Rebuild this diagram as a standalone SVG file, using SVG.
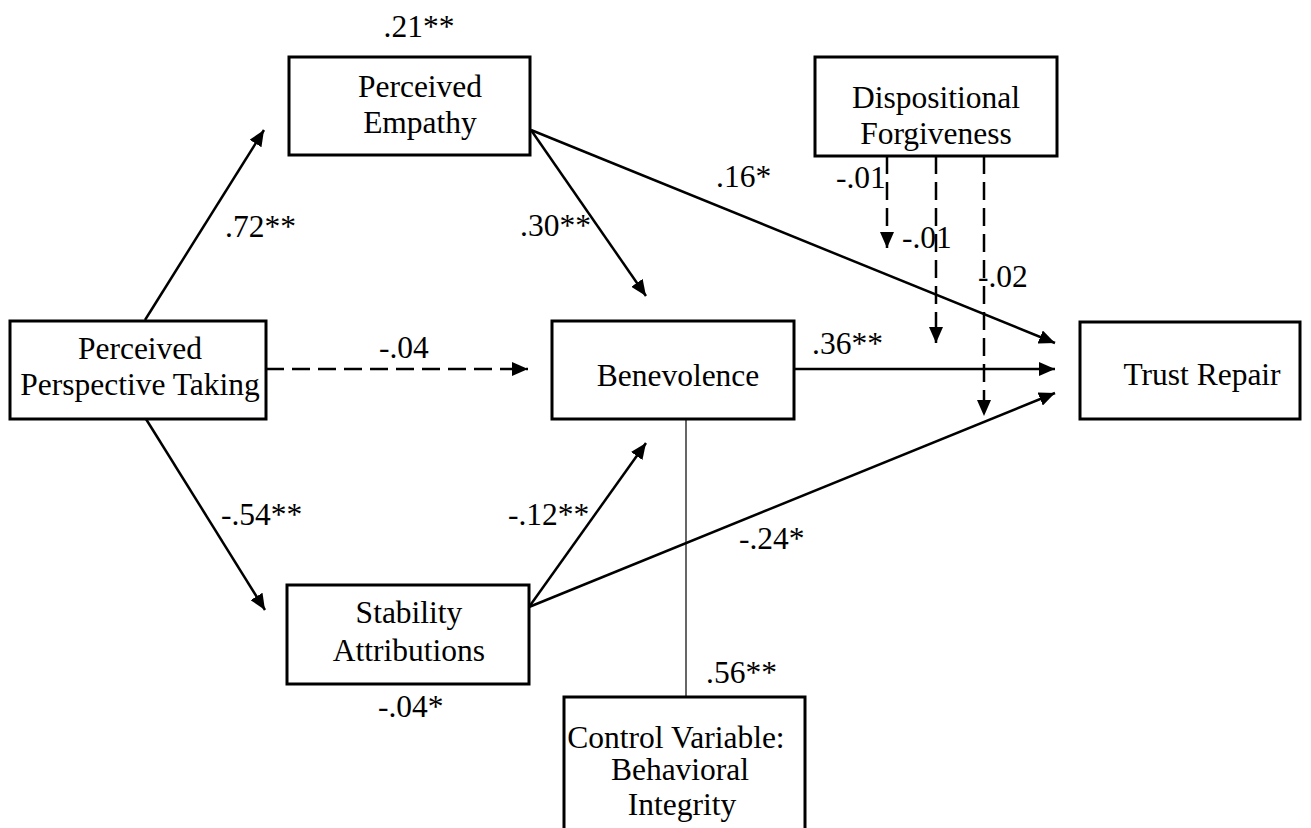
<svg xmlns="http://www.w3.org/2000/svg" width="1311" height="828" viewBox="0 0 1311 828">
  <style>
    .box { fill: #ffffff; stroke: #000000; stroke-width: 3; }
    .lbl { font-family: "Liberation Serif", "Times New Roman", serif; font-size: 31.5px; fill: #000000; }
    .mid { text-anchor: middle; }
    .path { stroke: #000000; stroke-width: 2.5; fill: none; marker-end: url(#head); }
    .dash { stroke-dasharray: 18 8; }
    .thin { stroke: #000000; stroke-width: 1.2; fill: none; }
  </style>
  <defs>
    <marker id="head" markerUnits="userSpaceOnUse" markerWidth="16" markerHeight="14" refX="16" refY="7" orient="auto">
      <path d="M0,0 L16,7 L0,14 Z" fill="#000000"/>
    </marker>
  </defs>
  <rect width="1311" height="828" fill="#ffffff"/>

  <!-- paths between constructs -->
  <g id="connectors">
    <line class="path" x1="145" y1="320" x2="264" y2="130"/>
    <line class="path" x1="146" y1="419" x2="265" y2="610"/>
    <line class="path dash" x1="266" y1="369" x2="528" y2="369"/>
    <line class="path" x1="531" y1="130" x2="646" y2="296"/>
    <line class="path" x1="531" y1="130" x2="1055" y2="343"/>
    <line class="path" x1="794" y1="369" x2="1055" y2="369"/>
    <line class="path" x1="529" y1="607" x2="646" y2="443"/>
    <line class="path" x1="529" y1="607" x2="1055" y2="393"/>
    <line class="path dash" x1="887" y1="156" x2="887" y2="248"/>
    <line class="path dash" x1="936" y1="156" x2="936" y2="343"/>
    <line class="path dash" x1="984" y1="156" x2="984" y2="416"/>
    <line class="thin" x1="686" y1="419" x2="686" y2="697"/>
  </g>

  <!-- path coefficients -->
  <g id="coefficients">
    <text class="lbl mid" x="419" y="37">.21**</text>
    <text class="lbl" x="225" y="237">.72**</text>
    <text class="lbl" x="520" y="236">.30**</text>
    <text class="lbl" x="716" y="187">.16*</text>
    <text class="lbl" x="836" y="188">-.01</text>
    <text class="lbl" x="902" y="248">-.01</text>
    <text class="lbl" x="978" y="287">-.02</text>
    <text class="lbl" x="379" y="358">-.04</text>
    <text class="lbl" x="812" y="354">.36**</text>
    <text class="lbl" x="221" y="525">-.54**</text>
    <text class="lbl" x="508" y="525">-.12**</text>
    <text class="lbl" x="739" y="549">-.24*</text>
    <text class="lbl" x="378" y="717">-.04*</text>
    <text class="lbl" x="706" y="683">.56**</text>
  </g>

  <g id="perspective-taking">
    <rect class="box" x="10" y="321" width="256" height="98"/>
    <text class="lbl mid" x="140" y="359">Perceived</text>
    <text class="lbl mid" x="140" y="395">Perspective Taking</text>
  </g>

  <g id="empathy">
    <rect class="box" x="289" y="57" width="241" height="98"/>
    <text class="lbl mid" x="420" y="97">Perceived</text>
    <text class="lbl mid" x="420" y="133">Empathy</text>
  </g>

  <g id="forgiveness">
    <rect class="box" x="815" y="57" width="242" height="99"/>
    <text class="lbl mid" x="936" y="108">Dispositional</text>
    <text class="lbl mid" x="936" y="144">Forgiveness</text>
  </g>

  <g id="benevolence">
    <rect class="box" x="552" y="321" width="242" height="98"/>
    <text class="lbl mid" x="678" y="386">Benevolence</text>
  </g>

  <g id="trust-repair">
    <rect class="box" x="1080" y="322" width="220" height="97"/>
    <text class="lbl mid" x="1202" y="385">Trust Repair</text>
  </g>

  <g id="stability">
    <rect class="box" x="287" y="585" width="242" height="99"/>
    <text class="lbl mid" x="409" y="623">Stability</text>
    <text class="lbl mid" x="409" y="661">Attributions</text>
  </g>

  <g id="behavioral-integrity">
    <rect class="box" x="564" y="697" width="241" height="160"/>
    <text class="lbl mid" x="676" y="748">Control Variable:</text>
    <text class="lbl mid" x="680" y="780">Behavioral</text>
    <text class="lbl mid" x="682" y="815">Integrity</text>
  </g>
</svg>
